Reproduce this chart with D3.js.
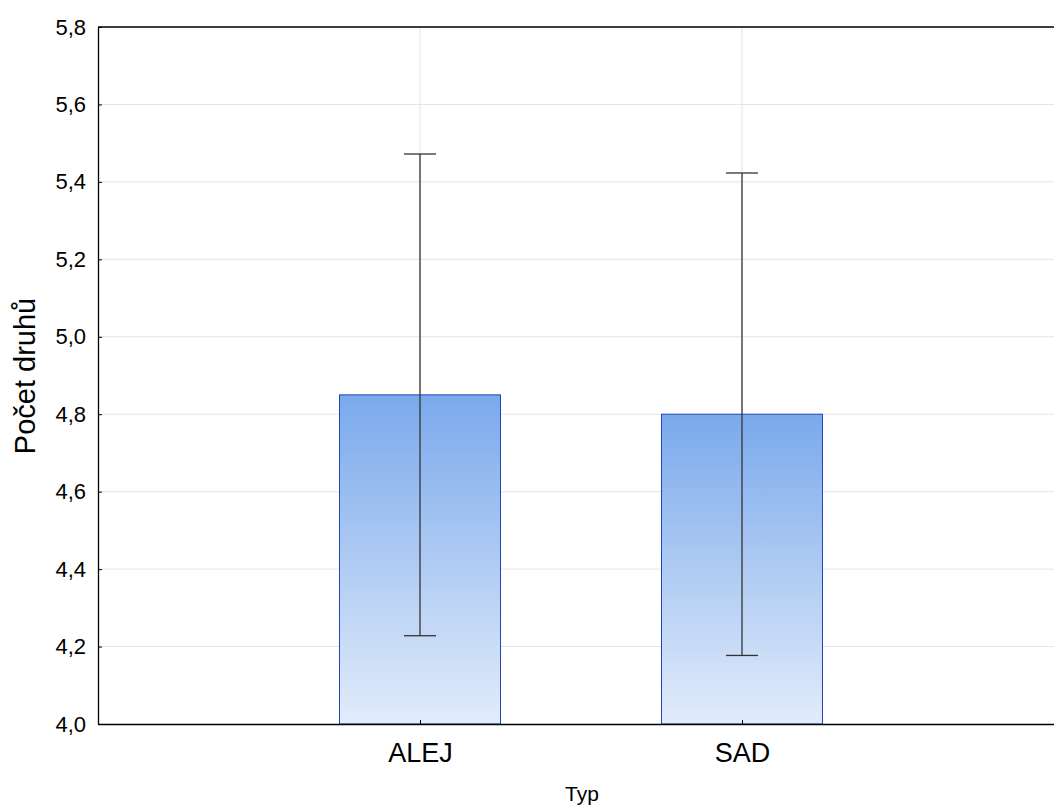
<!DOCTYPE html>
<html><head><meta charset="utf-8">
<script src="https://cdn.jsdelivr.net/npm/d3@7"></script>
<style>body{margin:0;background:#fff;}svg{display:block;font-family:"Liberation Sans",Arial,sans-serif;}</style>
</head><body>
<svg id="c" width="1054" height="808"></svg>
<script>
const categories = ["ALEJ", "SAD"];
const means = [4.85, 4.80];
const upper = [5.472, 5.423];
const lower = [4.228, 4.177];
const yTicks = [4.0, 4.2, 4.4, 4.6, 4.8, 5.0, 5.2, 5.4, 5.6, 5.8];

const svg = d3.select("#c");
const L = 98, T = 27, B = 724;
const x = d3.scaleLinear().domain([0, 3]).range([L, L + 966]);
const y = d3.scaleLinear().domain([4.0, 5.8]).range([B, T]);
const fmt = d => d.toFixed(1).replace(".", ",");

const defs = svg.append("defs");
const g = defs.append("linearGradient").attr("id","bg").attr("x1",0).attr("y1",0).attr("x2",0).attr("y2",1);
g.append("stop").attr("offset","0%").attr("stop-color","#7aa9ec");
g.append("stop").attr("offset","100%").attr("stop-color","#e2ecfa");

// grid
svg.append("g").selectAll("line").data(yTicks.slice(1)).join("line")
  .attr("x1", L).attr("x2", 1054).attr("y1", d => y(d)).attr("y2", d => y(d))
  .attr("stroke", "#e4e4e4").attr("stroke-width", 1);
svg.append("g").selectAll("line").data(categories).join("line")
  .attr("x1", (d,i) => x(i+1)).attr("x2", (d,i) => x(i+1)).attr("y1", T).attr("y2", B)
  .attr("stroke", "#e4e4e4").attr("stroke-width", 1);

// bars
svg.append("g").selectAll("rect").data(means).join("rect")
  .attr("x", (d,i) => x(i+1-0.25)).attr("width", x(0.5) - x(0))
  .attr("y", d => y(d)).attr("height", d => y(4.0) - y(d))
  .attr("fill", "url(#bg)").attr("stroke", "#2244bb").attr("stroke-width", 1);

// error bars
const eb = svg.append("g").attr("stroke", "#333").attr("stroke-width", 1.3);
categories.forEach((c, i) => {
  const cx = x(i+1);
  eb.append("line").attr("x1", cx).attr("x2", cx).attr("y1", y(upper[i])).attr("y2", y(lower[i]));
  eb.append("line").attr("x1", cx-16).attr("x2", cx+16).attr("y1", y(upper[i])).attr("y2", y(upper[i]));
  eb.append("line").attr("x1", cx-16).attr("x2", cx+16).attr("y1", y(lower[i])).attr("y2", y(lower[i]));
});

// axes
const ya = d3.axisLeft(y).tickValues(yTicks).tickFormat(fmt).tickSizeInner(-4).tickSizeOuter(0).tickPadding(12);
const yg = svg.append("g").attr("transform", `translate(${L},0)`).call(ya);
yg.select(".domain").attr("stroke", "#000").attr("stroke-width", 1.3);
yg.selectAll(".tick line").attr("stroke", "#000");
yg.selectAll(".tick text").attr("font-size", 22).attr("fill", "#000").attr("font-family", "Liberation Sans, Arial, sans-serif");

const xa = d3.axisBottom(x).tickValues([1, 2]).tickFormat(d => categories[d-1]).tickSizeInner(-4).tickSizeOuter(0).tickPadding(19);
const xg = svg.append("g").attr("transform", `translate(0,${B})`).call(xa);
xg.select(".domain").attr("stroke", "#000").attr("stroke-width", 1.3);
xg.selectAll(".tick line").attr("stroke", "#000");
xg.selectAll(".tick text").attr("font-size", 27).attr("fill", "#000").attr("font-family", "Liberation Sans, Arial, sans-serif");

// top border
svg.append("line").attr("x1", L).attr("x2", 1054).attr("y1", T).attr("y2", T).attr("stroke", "#000").attr("stroke-width", 1.3);

// titles
svg.append("text").attr("x", 582).attr("y", 801).attr("text-anchor", "middle")
  .attr("font-size", 21).text("Typ");
svg.append("text").attr("transform", "translate(35,376) rotate(-90)").attr("text-anchor", "middle")
  .attr("font-size", 29).text("Počet druhů");
</script>
</body></html>
